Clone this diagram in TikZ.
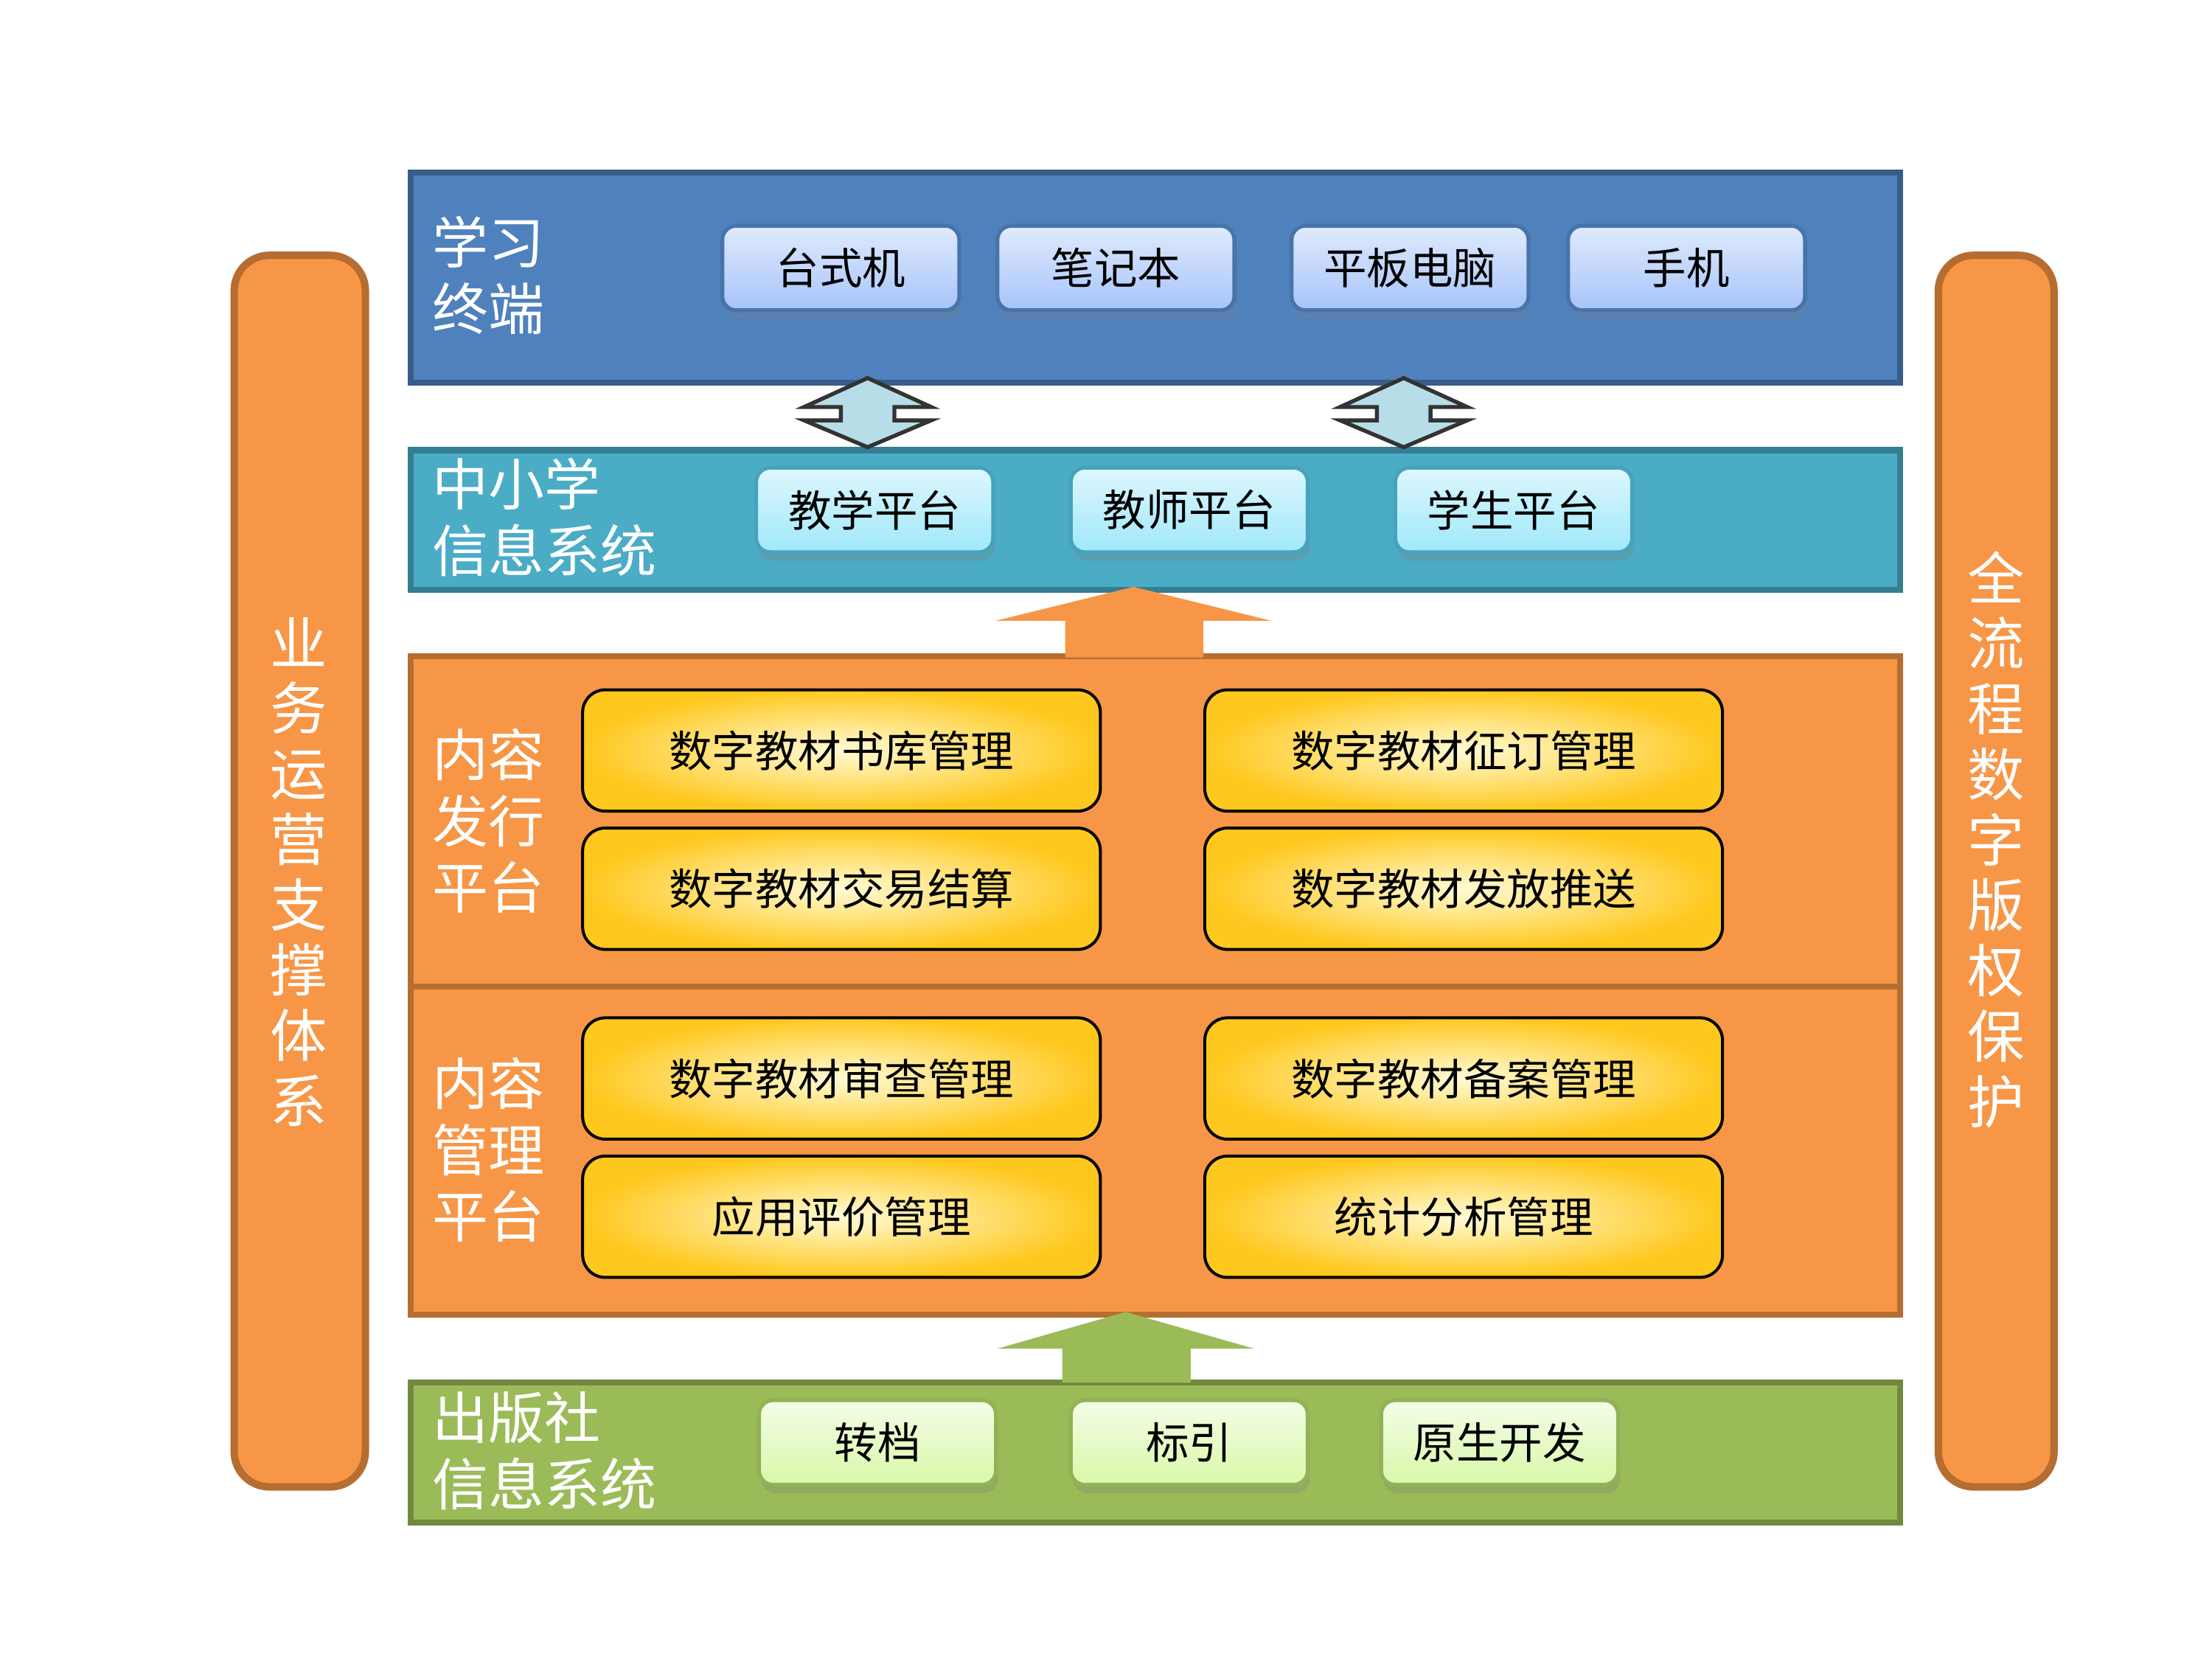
\documentclass[tikz,border=0pt]{standalone}
\usepackage{fontspec}
\setmainfont{Noto Sans CJK SC}
\usetikzlibrary{positioning,shadows}

\definecolor{termblue}{HTML}{4F81BD}
\definecolor{termline}{HTML}{385D8A}
\definecolor{systeal}{HTML}{4BACC6}
\definecolor{sysline}{HTML}{357D91}
\definecolor{platorange}{HTML}{F79646}
\definecolor{platline}{HTML}{B66D31}
\definecolor{pubgreen}{HTML}{9BBB59}
\definecolor{publine}{HTML}{71893F}
\definecolor{arrowcyan}{HTML}{B7DDE8}
\definecolor{goldout}{HTML}{FFC81E}
\definecolor{goldin}{HTML}{FFFBD6}
\definecolor{bluetop}{HTML}{E0EAFD}
\definecolor{bluebot}{HTML}{A6C4FA}
\definecolor{tealtop}{HTML}{DDF7FE}
\definecolor{tealbot}{HTML}{A0E8FA}
\definecolor{greentop}{HTML}{F3FDE8}
\definecolor{greenbot}{HTML}{D9F8A8}

\tikzset{
  layer/.style={draw, line width=1.2pt, minimum width=10.56cm, anchor=north west, inner sep=0pt},
  laytext/.style={text=white, font=\fontsize{11.3}{13.4}\selectfont, align=left, anchor=west, inner sep=0pt},
  btn/.style={rounded corners=1mm, minimum width=1.68cm, minimum height=0.6cm, line width=0.8pt,
    font=\fontsize{8.7}{10}\selectfont,
    drop shadow={shadow xshift=0.15mm, shadow yshift=-0.6mm, opacity=0.3}},
  bluebtn/.style={btn, draw=termblue!90!black, top color=bluetop, bottom color=bluebot},
  tealbtn/.style={btn, draw=systeal!95!black, top color=tealtop, bottom color=tealbot},
  greenbtn/.style={btn, draw=pubgreen!95!black, top color=greentop, bottom color=greenbot},
  func/.style={draw=black, line width=0.6pt, rounded corners=1.6mm, minimum width=3.67cm, minimum height=0.86cm,
    inner color=goldin, outer color=goldout, font=\fontsize{8.7}{10}\selectfont},
  sidebar/.style={draw=platline, fill=platorange, line width=1.5pt, rounded corners=2.5mm, minimum height=8.73cm},
  sidetext/.style={text=white, align=center, font=\fontsize{11.5}{13.2}\selectfont},
  dblarrow/.style={draw=black!80, fill=arrowcyan, line width=0.8pt, line join=miter}
}

\begin{document}
\begin{tikzpicture}
\useasboundingbox (0,0) rectangle (15.68,-11.76);

% side bars
\node[sidebar, minimum width=0.93cm] (ops) at (2.125,-6.175) {};
\node[sidetext] (opstext) at (2.12,-6.18) {业\\务\\运\\营\\支\\撑\\体\\系};
\node[sidebar, minimum width=0.82cm] (drm) at (14.15,-6.175) {};
\node[sidetext] (drmtext) at (14.15,-5.95) {全\\流\\程\\数\\字\\版\\权\\保\\护};

% layers
\node[layer, draw=termline, fill=termblue, minimum height=1.49cm] (term) at (2.89,-1.20) {};
\node[layer, draw=sysline, fill=systeal, minimum height=0.99cm] (sys) at (2.89,-3.17) {};
\node[layer, draw=platline, fill=platorange, minimum height=2.34cm] (dist) at (2.89,-4.63) {};
\node[layer, draw=platline, fill=platorange, minimum height=2.33cm] (mgmt) at (2.89,-6.97) {};
\node[layer, draw=publine, fill=pubgreen, minimum height=0.99cm] (pub) at (2.89,-9.78) {};

\node[laytext] (termlabel) at (3.06,-1.95) {学习\\终端};
\node[laytext] (syslabel) at (3.06,-3.665) {中小学\\信息系统};
\node[laytext] (distlabel) at (3.06,-5.82) {内容\\发行\\平台};
\node[laytext] (mgmtlabel) at (3.06,-8.15) {内容\\管理\\平台};
\node[laytext] (publabel) at (3.06,-10.285) {出版社\\信息系统};

% terminals
\node[bluebtn] (desk) at (5.96,-1.90) {台式机};
\node[bluebtn] (note) at (7.91,-1.90) {笔记本};
\node[bluebtn] (pad) at (9.995,-1.90) {平板电脑};
\node[bluebtn] (phone) at (11.955,-1.90) {手机};

% school systems
\node[tealbtn] (teach) at (6.20,-3.615) {教学平台};
\node[tealbtn] (teacher) at (8.43,-3.615) {教师平台};
\node[tealbtn] (student) at (10.73,-3.615) {学生平台};

% platforms
\node[func] (lib) at (5.965,-5.32) {数字教材书库管理};
\node[func] (order) at (10.375,-5.32) {数字教材征订管理};
\node[func] (trade) at (5.965,-6.30) {数字教材交易结算};
\node[func] (push) at (10.375,-6.30) {数字教材发放推送};
\node[func] (review) at (5.965,-7.645) {数字教材审查管理};
\node[func] (record) at (10.375,-7.645) {数字教材备案管理};
\node[func] (eval) at (5.965,-8.625) {应用评价管理};
\node[func] (stat) at (10.375,-8.625) {统计分析管理};

% publisher systems
\node[greenbtn] (conv) at (6.22,-10.225) {转档};
\node[greenbtn] (index) at (8.43,-10.225) {标引};
\node[greenbtn] (native) at (10.63,-10.225) {原生开发};

% arrows between layers
\foreach \x in {6.15,9.95}{
  \draw[dblarrow] (\x,-2.68) -- (\x+0.45,-2.885) -- (\x+0.19,-2.885) -- (\x+0.19,-2.98)
    -- (\x+0.45,-2.98) -- (\x,-3.17) -- (\x-0.45,-2.98) -- (\x-0.19,-2.98)
    -- (\x-0.19,-2.885) -- (\x-0.45,-2.885) -- cycle;
}
\fill[platorange] (8.035,-4.16) -- (9.01,-4.40) -- (8.53,-4.40) -- (8.53,-4.66)
  -- (7.55,-4.66) -- (7.55,-4.40) -- (7.06,-4.40) -- cycle;
\fill[pubgreen] (7.98,-9.30) -- (8.89,-9.56) -- (8.44,-9.56) -- (8.44,-9.80)
  -- (7.53,-9.80) -- (7.53,-9.56) -- (7.07,-9.56) -- cycle;
\end{tikzpicture}
\end{document}
